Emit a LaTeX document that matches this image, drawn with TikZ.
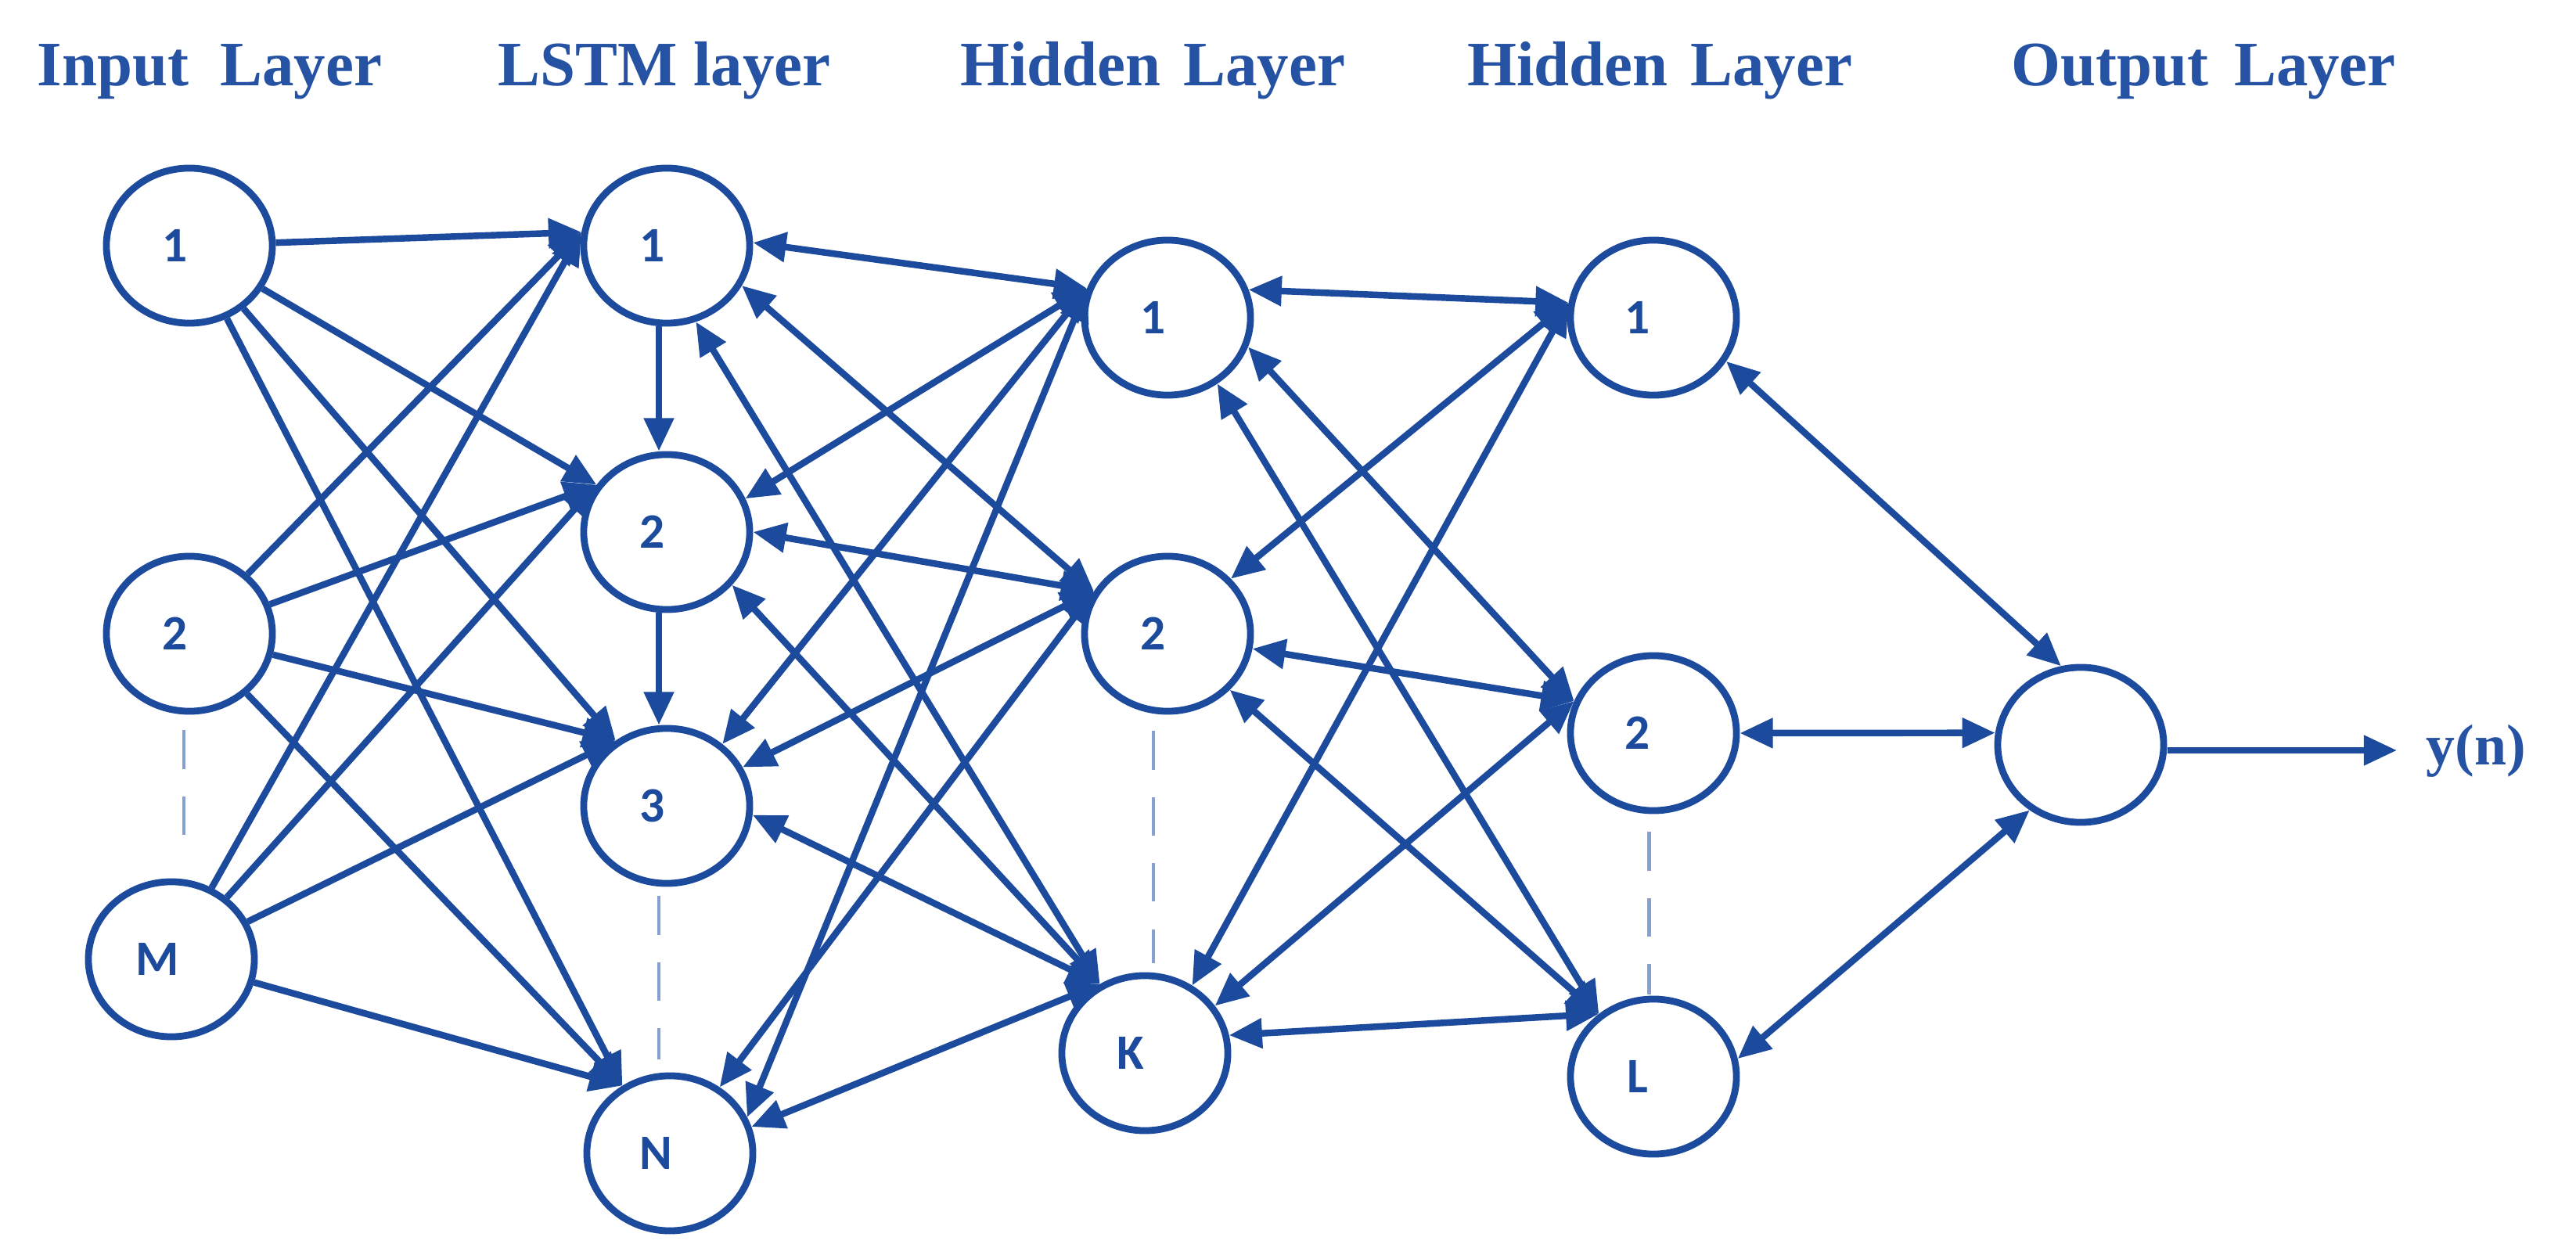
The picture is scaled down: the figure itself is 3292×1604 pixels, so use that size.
\documentclass[tikz,border=0pt]{standalone}
\usepackage{fontspec}
\setmainfont{Liberation Serif}
\newfontfamily\lblfont{Carlito}
\usetikzlibrary{arrows.meta,shapes.geometric}
\definecolor{nnblue}{HTML}{1C4A9C}
\definecolor{ttlblue}{HTML}{2552A3}
\definecolor{dashblue}{HTML}{86A0CF}
\tikzset{nnarrow/.tip={Triangle[length=12pt,width=10.5pt]}}
\begin{document}
\begin{tikzpicture}[x=0.01cm,y=-0.01cm,
  neuron/.style={ellipse, draw=nnblue, line width=2.5pt, minimum width=2.12cm, minimum height=1.98cm, inner sep=0pt},
  lab/.style={font=\lblfont\bfseries\fontsize{18pt}{20pt}\selectfont, text=nnblue, inner sep=0pt},
  conn/.style={draw=nnblue, line width=2.4pt, -nnarrow},
  biconn/.style={draw=nnblue, line width=2.4pt, nnarrow-nnarrow},
  dashln/.style={draw=dashblue, line width=1.4pt, dash pattern=on 14pt off 10pt},
  title/.style={font=\bfseries\fontsize{23pt}{26pt}\selectfont, text=ttlblue, anchor=base, inner sep=0pt}]
\useasboundingbox (0,0) rectangle (3292,1604);

% titles
\node[title] (t1) at (268,110) {Input\ \ Layer};
\node[title] (t2) at (849,110) {LSTM layer};
\node[title] (t3) at (1473,110) {Hidden\hspace{0.29cm}Layer};
\node[title] (t4) at (2121,110) {Hidden\hspace{0.29cm}Layer};
\node[title] (t5) at (2816,110) {Output\hspace{0.33cm}Layer};

% input layer
\node[neuron, label={[lab,xshift=-0.18cm]center:1}] (i1) at (242,314) {};
\node[neuron, label={[lab,xshift=-0.18cm]center:2}] (i2) at (242,810) {};
\node[neuron, label={[lab,xshift=-0.18cm]center:M}] (iM) at (219,1226) {};
% LSTM layer
\node[neuron, label={[lab,xshift=-0.18cm]center:1}] (l1) at (852,314) {};
\node[neuron, label={[lab,xshift=-0.18cm]center:2}] (l2) at (852,680) {};
\node[neuron, label={[lab,xshift=-0.18cm]center:3}] (l3) at (852,1030) {};
\node[neuron, label={[lab,xshift=-0.18cm]center:N}] (lN) at (856,1474) {};
% hidden layer 1
\node[neuron, label={[lab,xshift=-0.18cm]center:1}] (h1) at (1492,406) {};
\node[neuron, label={[lab,xshift=-0.18cm]center:2}] (h2) at (1492,810) {};
\node[neuron, label={[lab,xshift=-0.18cm]center:K}] (hK) at (1463,1346) {};
% hidden layer 2
\node[neuron, label={[lab,xshift=-0.2cm]center:1}] (g1) at (2113,406) {};
\node[neuron, label={[lab,xshift=-0.2cm]center:2}] (g2) at (2113,937) {};
\node[neuron, label={[lab,xshift=-0.2cm]center:L}] (gL) at (2113,1376) {};
% output
\node[neuron] (out) at (2659,952) {};
\node[font=\bfseries\fontsize{21pt}{24pt}\selectfont, text=ttlblue, anchor=base west, inner sep=0pt] (yn) at (3100,977) {y(n)};
\coordinate (ytip) at (3063,959);

% input -> LSTM
\foreach \s in {i1,i2,iM}{
  \draw[conn] (\s) -- (l1.171);
  \draw[conn] (\s) -- (l2.146);
  \draw[conn] (\s) -- (l3.128);
  \draw[conn] (\s) -- (lN.125);
}
% LSTM vertical
\draw[conn] ([shift={(-10,0)}]l1.south) -- ([shift={(-10,0)}]l2.north);
\draw[conn] ([shift={(-10,0)}]l2.south) -- ([shift={(-10,0)}]l3.north);

% LSTM <-> hidden 1
\draw[biconn] (l1.2) -- (h1.160);
\draw[biconn] (l1.-28) -- (h2.150);
\draw[biconn] (l1.-69) -- (hK.123);
\draw[biconn] (l2.23) -- (h1.160);
\draw[biconn] (l2.0) -- (h2.150);
\draw[biconn] (l2.-39) -- (hK.123);
\draw[biconn] (l3.48) -- (h1.160);
\draw[biconn] (l3.27) -- (h2.150);
\draw[biconn] (l3.-6) -- (hK.123);
\draw[biconn] (lN.25) -- (h1.160);
\draw[biconn] (lN.53) -- (h2.150);
\draw[biconn] (lN.18) -- (hK.123);

% hidden 1 <-> hidden 2
\draw[biconn] (h1.19) -- (g1.170);
\draw[biconn] (h1.-20) -- (g2.158);
\draw[biconn] (h1.-53) -- (gL.131);
\draw[biconn] (h2.41) -- (g1.170);
\draw[biconn] (h2.-10) -- (g2.158);
\draw[biconn] (h2.-42) -- (gL.131);
\draw[biconn] (hK.55) -- (g1.170);
\draw[biconn] (hK.34) -- (g2.158);
\draw[biconn] (hK.12) -- (gL.131);

% hidden 2 <-> output
\draw[biconn] (g1.-31) -- (out.104);
\draw[biconn] (g2.0) -- (out.172);
\draw[biconn] (gL.12) -- (out.232);
\draw[conn] (out.east |- ytip) -- (ytip);

% dashed ellipsis lines
\draw[dashln] ([shift={(-7,20)}]i2.south) -- ([shift={(16,-23)}]iM.north);
\draw[dashln] ([shift={(-10,12)}]l3.south) -- ([shift={(-14,-17)}]lN.north);
\draw[dashln] ([shift={(-18,21)}]h2.south) -- ([shift={(11,-12)}]hK.north);
\draw[dashln] ([shift={(-6,23)}]g2.south) -- ([shift={(-6,-2)}]gL.north);
\end{tikzpicture}
\end{document}
